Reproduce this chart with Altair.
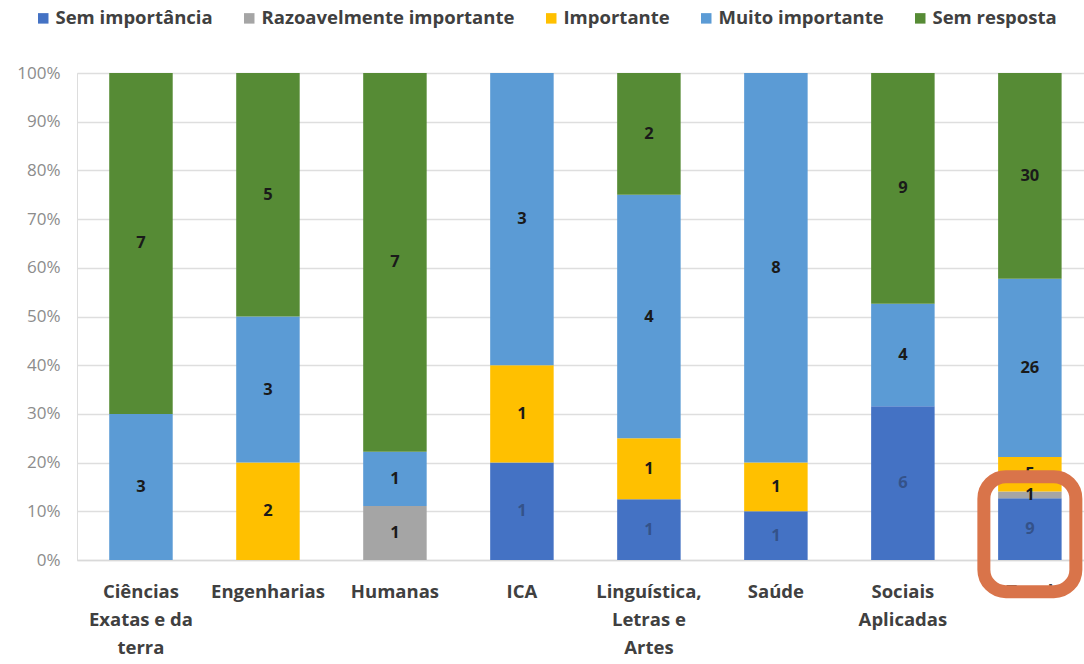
import altair as alt
import pandas as pd

# Areas (x categories) and answer counts per importance level
areas = [
    "Ciências Exatas e da terra",
    "Engenharias",
    "Humanas",
    "ICA",
    "Linguística, Letras e Artes",
    "Saúde",
    "Sociais Aplicadas",
    "Total",
]
area_labels = [
    ["Ciências", "Exatas e da", "terra"],
    ["Engenharias"],
    ["Humanas"],
    ["ICA"],
    ["Linguística,", "Letras e", "Artes"],
    ["Saúde"],
    ["Sociais", "Aplicadas"],
    ["Total"],
]
levels = [
    "Sem importância",
    "Razoavelmente importante",
    "Importante",
    "Muito importante",
    "Sem resposta",
]
colors = ["#4472C4", "#A5A5A5", "#FFC000", "#5B9BD5", "#568B35"]
label_colors = ["#34528a", "#1a1a1a", "#1a1a1a", "#1a1a1a", "#1a1a1a"]

sem_importancia = [0, 0, 0, 1, 1, 1, 6, 9]
razoavelmente = [0, 0, 1, 0, 0, 0, 0, 1]
importante = [0, 2, 0, 1, 1, 1, 0, 5]
muito_importante = [3, 3, 1, 3, 4, 8, 4, 26]
sem_resposta = [7, 5, 7, 0, 2, 0, 9, 30]

series = [sem_importancia, razoavelmente, importante, muito_importante, sem_resposta]

# Highlight box around the "Total" column (in normalized y units)
highlight_area = "Total"
highlight_low = -0.065
highlight_high = 0.171

rows = []
for li, (lvl, vals) in enumerate(zip(levels, series)):
    for area, v in zip(areas, vals):
        if v > 0:
            rows.append({"area": area, "level": lvl, "order": li, "count": v,
                         "txtcolor": label_colors[li]})
df = pd.DataFrame(rows)

label_map = {a: l for a, l in zip(areas, area_labels)}
label_expr = "{" + ",".join(
    '"%s": [%s]' % (a, ",".join('"%s"' % s for s in l)) for a, l in label_map.items()
) + "}[datum.value]"

FONT = "Open Sans"

x_enc = alt.X(
    "area:N",
    sort=areas,
    title=None,
    scale=alt.Scale(domain=areas, paddingInner=0.5, paddingOuter=0.215, align=0.59),
    axis=alt.Axis(
        labelAngle=0,
        labelFont=FONT,
        labelFontSize=18.5,
        labelFontWeight="bold",
        labelColor="#404040",
        labelExpr=label_expr,
        labelLineHeight=28,
        labelPadding=22,
        labelBaseline="top",
        ticks=False,
        domainColor="#d9d9d9",
        domainWidth=1.5,
        labelLimit=200,
    ),
)

base = alt.Chart(df).transform_stack(
    stack="count",
    groupby=["area"],
    as_=["y0", "y1"],
    sort=[alt.SortField("order", order="ascending")],
    offset="normalize",
).transform_calculate(mid="(datum.y0 + datum.y1) / 2")

y_scale = alt.Scale(domain=[0, 1], nice=False)

bars = base.mark_bar().encode(
    x=x_enc,
    y=alt.Y(
        "y0:Q",
        scale=y_scale,
        title=None,
        axis=alt.Axis(
            values=[i / 10 for i in range(11)],
            format="%",
            labelFont=FONT,
            labelFontSize=17,
            labelColor="#8c8c8c",
            labelPadding=17,
            ticks=False,
            domain=False,
            gridColor="#dedede",
            gridWidth=1.5,
        ),
    ),
    y2="y1:Q",
    color=alt.Color(
        "level:N",
        scale=alt.Scale(domain=levels, range=colors),
        legend=alt.Legend(
            title=None,
            orient="none",
            legendX=-43,
            legendY=-64,
            direction="horizontal",
            symbolType="square",
            symbolSize=110,
            symbolStrokeWidth=0,
            labelFont=FONT,
            labelFontSize=18.5,
            labelFontWeight="bold",
            labelColor="#404040",
            labelOffset=3,
            columnPadding=27,
            labelLimit=400,
        ),
    ),
)

labels = base.mark_text(font=FONT, fontSize=16.5, fontWeight="bold").encode(
    x=alt.X("area:N", sort=areas),
    y=alt.Y("mid:Q"),
    text="count:Q",
    color=alt.Color("txtcolor:N", scale=None),
)

box_df = pd.DataFrame({"area": [highlight_area], "lo": [highlight_low], "hi": [highlight_high]})
box = alt.Chart(box_df).mark_bar(
    width=92,
    cornerRadius=22,
    fillOpacity=0,
    stroke="#D9744A",
    strokeWidth=13,
    clip=False,
).encode(
    x=alt.X("area:N", sort=areas),
    y=alt.Y("lo:Q"),
    y2="hi:Q",
)

chart = (
    alt.layer(bars, labels, box)
    .properties(
        width=1007,
        height=487,
        padding={"left": 77, "top": 73, "right": 0, "bottom": 104},
        autosize=alt.AutoSizeParams(type="none"),
    )
    .configure_view(stroke=None)
    .configure(background="white")
)

chart.save("out.html", embed_options={"renderer": "svg", "actions": False})
